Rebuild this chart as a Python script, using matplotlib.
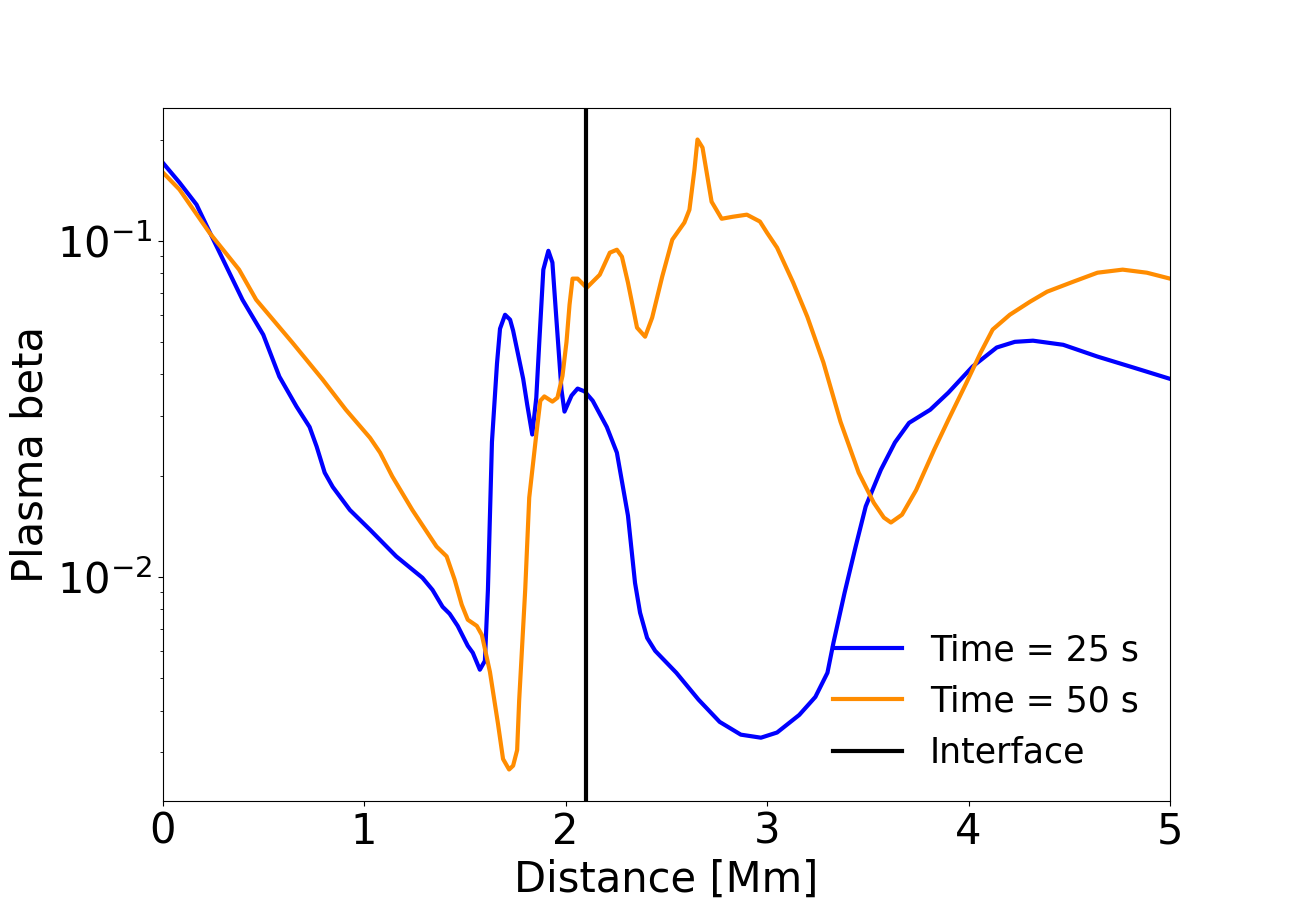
import matplotlib
matplotlib.use("Agg")
import matplotlib.pyplot as plt

# Time = 25 s
x25 = [0.0, 0.084, 0.169, 0.233, 0.397, 0.50, 0.58, 0.665, 0.73, 0.765, 0.805, 0.845,
       0.93, 1.03, 1.16, 1.29, 1.34, 1.39, 1.425, 1.465, 1.515, 1.54, 1.575, 1.60,
       1.615, 1.635, 1.66, 1.675, 1.70, 1.725, 1.74, 1.79, 1.81, 1.835, 1.855, 1.87,
       1.89, 1.915, 1.935, 1.955, 1.98, 1.995, 2.03, 2.06, 2.095, 2.135, 2.205, 2.255,
       2.285, 2.31, 2.345, 2.37, 2.405, 2.445, 2.55, 2.66, 2.765, 2.87, 2.97, 3.05,
       3.16, 3.24, 3.30, 3.33, 3.385, 3.44, 3.49, 3.565, 3.635, 3.705, 3.81, 3.90,
       4.02, 4.14, 4.23, 4.32, 4.47, 4.64, 4.82, 5.0]
b25 = [0.171, 0.149, 0.128, 0.1064, 0.0667, 0.0525, 0.0394, 0.0321, 0.0279, 0.0244,
       0.0204, 0.0185, 0.0158, 0.0138, 0.0115, 0.00993, 0.00914, 0.00814, 0.00776,
       0.00714, 0.00623, 0.00594, 0.00529, 0.00562, 0.00914, 0.0252, 0.0431, 0.0547,
       0.0602, 0.0582, 0.0540, 0.0388, 0.0325, 0.0265, 0.0341, 0.0500, 0.0820, 0.0933,
       0.0861, 0.0582, 0.0360, 0.0310, 0.0346, 0.0363, 0.0356, 0.0334, 0.0279, 0.0234,
       0.0185, 0.0152, 0.00959, 0.00782, 0.00658, 0.00602, 0.00518, 0.00431, 0.00370,
       0.00339, 0.00332, 0.00344, 0.00388, 0.00439, 0.00518, 0.00637, 0.00896, 0.0123,
       0.0162, 0.0208, 0.0251, 0.0287, 0.0314, 0.0353, 0.0422, 0.0481, 0.0500, 0.0504,
       0.0490, 0.0452, 0.0419, 0.0388]

# Time = 50 s
x50 = [0.0, 0.084, 0.233, 0.38, 0.465, 0.645, 0.795, 0.91, 1.03, 1.08, 1.14, 1.24,
       1.36, 1.41, 1.45, 1.485, 1.515, 1.56, 1.585, 1.625, 1.665, 1.69, 1.72, 1.74,
       1.76, 1.77, 1.80, 1.82, 1.855, 1.875, 1.895, 1.935, 1.96, 1.985, 2.005, 2.02,
       2.035, 2.06, 2.105, 2.17, 2.22, 2.255, 2.28, 2.31, 2.355, 2.395, 2.43, 2.48,
       2.53, 2.59, 2.615, 2.64, 2.655, 2.68, 2.725, 2.775, 2.83, 2.90, 2.965, 3.0,
       3.05, 3.13, 3.20, 3.28, 3.365, 3.455, 3.53, 3.58, 3.615, 3.67, 3.74, 3.83,
       3.90, 3.99, 4.06, 4.12, 4.205, 4.305, 4.39, 4.52, 4.64, 4.765, 4.885, 5.0]
b50 = [0.160, 0.142, 0.1056, 0.0820, 0.0667, 0.0497, 0.0386, 0.0314, 0.0259, 0.0234,
       0.0199, 0.0158, 0.0123, 0.0115, 0.00980, 0.00826, 0.00745, 0.00714, 0.00671,
       0.00521, 0.00365, 0.00287, 0.00267, 0.00274, 0.00305, 0.00428, 0.00914, 0.0172,
       0.0265, 0.0334, 0.0344, 0.0332, 0.0341, 0.0396, 0.0500, 0.0645, 0.0771, 0.0771,
       0.0724, 0.0792, 0.0921, 0.0940, 0.0896, 0.0750, 0.0551, 0.0518, 0.0590, 0.0782,
       0.1007, 0.1132, 0.1236, 0.1627, 0.2000, 0.1892, 0.1306, 0.1162, 0.1178, 0.1195,
       0.1140, 0.1056, 0.0953, 0.0750, 0.0594, 0.0434, 0.0289, 0.0204, 0.0166, 0.0150,
       0.0145, 0.0153, 0.0181, 0.0239, 0.0293, 0.0378, 0.0464, 0.0544, 0.0602, 0.0658,
       0.0705, 0.0755, 0.0803, 0.0820, 0.0803, 0.0771]

interface_x = 2.1
labels = ["Time = 25 s", "Time = 50 s", "Interface"]

fig, ax = plt.subplots(figsize=(13, 9), dpi=100)
ax.plot(x25, b25, color="blue", lw=3, label=labels[0])
ax.plot(x50, b50, color="darkorange", lw=3, label=labels[1])
ax.axvline(interface_x, color="black", lw=3, label=labels[2])
ax.set_yscale("log")
ax.set_xlim(0, 5)
ax.set_xlabel("Distance [Mm]", fontsize=30)
ax.set_ylabel("Plasma beta", fontsize=30)
ax.tick_params(axis="both", which="major", labelsize=30)
ax.legend(loc="lower right", frameon=False, fontsize=25)
fig.savefig("out.png", dpi=100)
